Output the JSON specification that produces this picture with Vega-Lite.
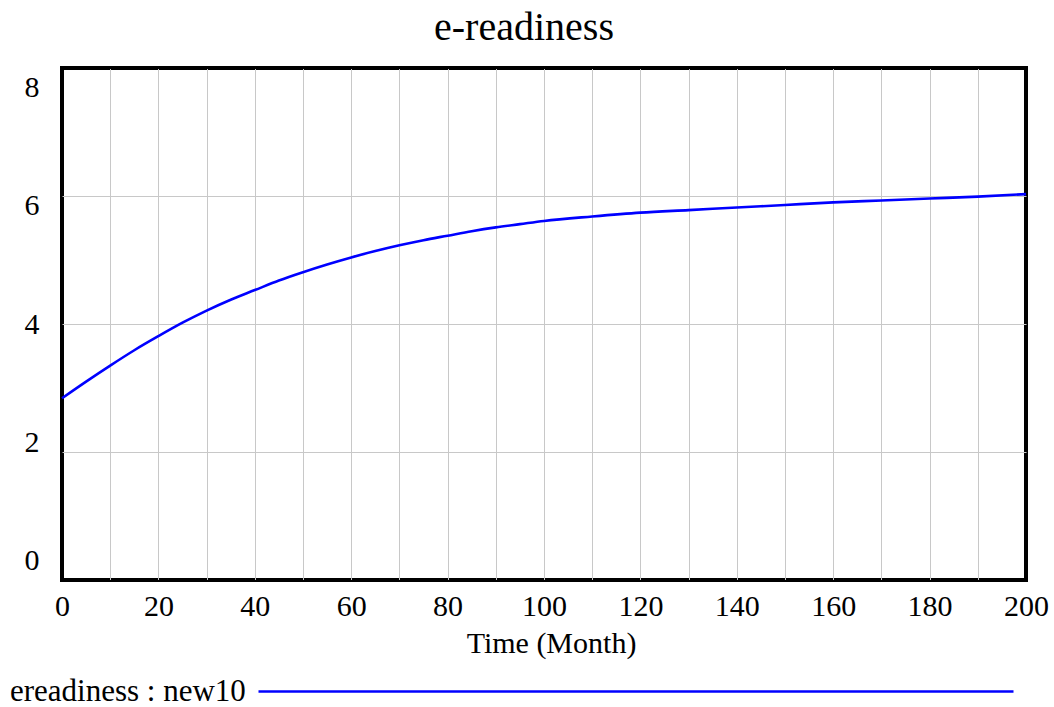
{
  "$schema": "https://vega.github.io/schema/vega-lite/v6.json",
  "autosize": {"type": "none"},
  "padding": {"left": 62, "top": 68, "right": 28, "bottom": 127},
  "width": 964,
  "height": 512,
  "background": "white",
  "title": {"text": "e-readiness", "font": "Liberation Serif", "fontSize": 40, "fontWeight": "normal", "color": "black", "anchor": "middle", "dx": -20, "dy": 38, "offset": 18, "baseline": "bottom"},
  "config": {
    "view": {"stroke": "black", "strokeWidth": 4},
    "axis": {"labelFont": "Liberation Serif", "labelFontSize": 30, "labelColor": "black", "titleFont": "Liberation Serif", "titleFontSize": 30, "titleFontWeight": "normal", "titleColor": "black", "domain": false, "ticks": false, "tickSize": 0, "grid": true, "gridWidth": 1, "labelFlush": false, "labelOverlap": false}
  },
  "data": {"values": [
    {"time": 0, "value": 2.84, "series": "ereadiness : new10"},
    {"time": 5, "value": 3.10, "series": "ereadiness : new10"},
    {"time": 10, "value": 3.35, "series": "ereadiness : new10"},
    {"time": 15, "value": 3.59, "series": "ereadiness : new10"},
    {"time": 20, "value": 3.81, "series": "ereadiness : new10"},
    {"time": 25, "value": 4.02, "series": "ereadiness : new10"},
    {"time": 30, "value": 4.21, "series": "ereadiness : new10"},
    {"time": 35, "value": 4.38, "series": "ereadiness : new10"},
    {"time": 40, "value": 4.53, "series": "ereadiness : new10"},
    {"time": 45, "value": 4.68, "series": "ereadiness : new10"},
    {"time": 50, "value": 4.81, "series": "ereadiness : new10"},
    {"time": 55, "value": 4.93, "series": "ereadiness : new10"},
    {"time": 60, "value": 5.04, "series": "ereadiness : new10"},
    {"time": 65, "value": 5.14, "series": "ereadiness : new10"},
    {"time": 70, "value": 5.23, "series": "ereadiness : new10"},
    {"time": 75, "value": 5.31, "series": "ereadiness : new10"},
    {"time": 80, "value": 5.38, "series": "ereadiness : new10"},
    {"time": 85, "value": 5.45, "series": "ereadiness : new10"},
    {"time": 90, "value": 5.51, "series": "ereadiness : new10"},
    {"time": 95, "value": 5.56, "series": "ereadiness : new10"},
    {"time": 100, "value": 5.61, "series": "ereadiness : new10"},
    {"time": 110, "value": 5.68, "series": "ereadiness : new10"},
    {"time": 120, "value": 5.74, "series": "ereadiness : new10"},
    {"time": 130, "value": 5.78, "series": "ereadiness : new10"},
    {"time": 140, "value": 5.82, "series": "ereadiness : new10"},
    {"time": 150, "value": 5.86, "series": "ereadiness : new10"},
    {"time": 160, "value": 5.90, "series": "ereadiness : new10"},
    {"time": 170, "value": 5.93, "series": "ereadiness : new10"},
    {"time": 180, "value": 5.96, "series": "ereadiness : new10"},
    {"time": 190, "value": 5.99, "series": "ereadiness : new10"},
    {"time": 200, "value": 6.03, "series": "ereadiness : new10"}
  ]},
  "mark": {"type": "line", "strokeWidth": 2.6, "interpolate": "monotone"},
  "encoding": {
    "x": {
      "field": "time", "type": "quantitative",
      "scale": {"domain": [0, 200], "nice": false, "zero": false},
      "axis": {"values": [0,10,20,30,40,50,60,70,80,90,100,110,120,130,140,150,160,170,180,190,200], "labelExpr": "datum.value % 20 === 0 ? datum.label : ''", "title": "Time (Month)", "labelPadding": 11, "titlePadding": 7, "titleX": 489,
        "gridColor": {"condition": {"test": "datum.value === 0 || datum.value === 200", "value": "black"}, "value": "#c8c8c8"}}
    },
    "y": {
      "field": "value", "type": "quantitative",
      "scale": {"domain": [0, 8], "nice": false},
      "axis": {"values": [0, 2, 4, 6, 8], "title": null, "labelPadding": 23, "labelOffset": {"expr": "(datum.value - 4) * 4.8"},
        "gridColor": {"condition": {"test": "datum.value === 0 || datum.value === 8", "value": "black"}, "value": "#c8c8c8"}}
    },
    "color": {
      "field": "series", "type": "nominal",
      "scale": {"range": ["#0000ff"]},
      "legend": {"orient": "none", "legendX": -83, "legendY": 608, "title": null, "padding": 0, "labelFont": "Liberation Serif", "labelFontSize": 31, "labelColor": "black", "labelOffset": 0, "labelLimit": 0, "symbolType": "M264,0H1019", "symbolSize": 4, "symbolStrokeWidth": 2.6, "symbolStrokeColor": "#0000ff", "symbolFillColor": "transparent"}
    }
  }
}
